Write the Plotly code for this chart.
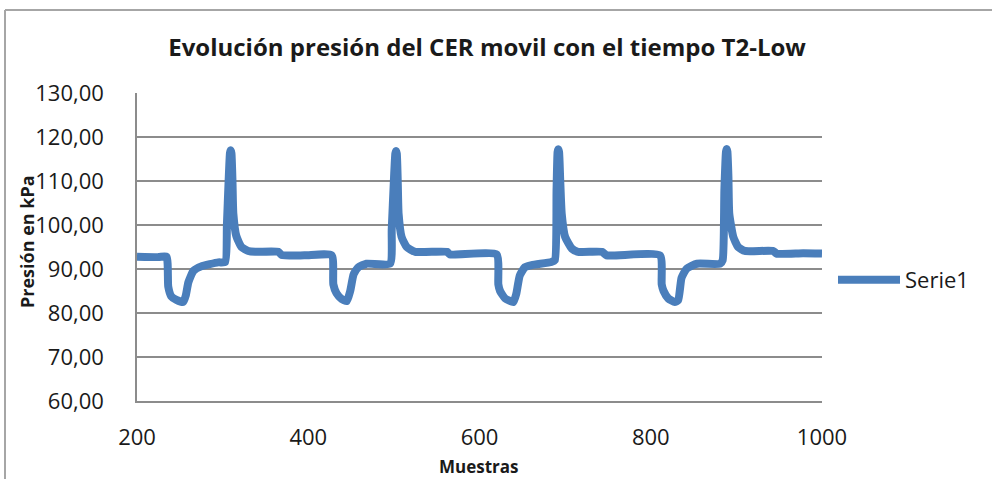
import plotly.graph_objects as go

# Sample index (Muestras) and pressure (kPa)
muestras = [200, 225, 234.5, 236.5, 240, 246, 254, 257, 260, 266, 275, 295, 303, 305, 307, 308.6, 309.4, 310.3, 311.5, 312.5, 316, 322, 330, 338, 365, 369, 396, 427.4,
            429.3, 433, 439, 445, 449, 453, 458.5, 468, 495.5, 497.5, 500, 501.7, 502.5, 503.4, 504.5, 505.5, 509, 515, 525, 562, 565.5, 620,
            622, 624, 630, 639.5, 643, 647, 653, 661, 684, 688, 690, 691.2, 692, 692.9, 694.3, 696, 700, 708, 715, 743, 748.5, 810.8,
            812.8, 815, 820.5, 828, 832, 836, 842, 854, 881, 884, 886, 887.9, 888.7, 889.5, 890.7, 891.7, 896.4, 902, 910, 943, 947, 978, 1000]
presion = [92.8, 92.7, 92.8, 86.0, 83.8, 83.0, 82.5, 84.0, 87.0, 89.6, 90.6, 91.5, 91.6, 100.0, 110.0, 116.4, 117.0, 116.3, 110.0, 102.6, 97.5, 95.0, 94.1, 93.9, 93.9, 93.2, 93.1, 93.1,
           86.5, 84.5, 83.2, 82.7, 85.0, 88.8, 90.4, 91.2, 91.2, 99.0, 110.0, 116.2, 116.8, 116.2, 110.0, 102.6, 97.3, 95.0, 93.9, 93.9, 93.3, 93.3,
           86.5, 85.0, 83.3, 82.5, 84.4, 88.5, 90.4, 90.9, 91.6, 92.0, 108.0, 116.6, 117.2, 116.6, 110.0, 102.6, 97.3, 94.6, 93.9, 93.9, 93.1, 93.1,
           86.5, 85.0, 83.3, 82.5, 82.9, 88.0, 90.1, 91.2, 91.2, 92.0, 108.0, 116.7, 117.3, 116.7, 111.0, 102.6, 97.3, 95.0, 94.1, 94.1, 93.5, 93.6, 93.5]

titulo = "Evolución presión del CER movil con el tiempo T2-Low"
x_titulo = "Muestras"
y_titulo = "Presión en kPa"
serie = "Serie1"

FONT = "Open Sans"
TXT = "#1a1a1a"
GRID = "#8c8c8c"

fig = go.Figure()
fig.add_trace(go.Scatter(
    x=muestras, y=presion, mode="lines", name=serie,
    line=dict(color="#4A7EBB", width=8, shape="spline", smoothing=0.5),
))

W, H = 992, 479
L, R, T, B = 137, 170, 93, 78
pw, ph = W - L - R, H - T - B

def px_x(px):
    return (px - L) / pw

def px_y(py):
    return (H - B - py) / ph

fig.update_layout(
    width=W, height=H,
    margin=dict(l=L, r=R, t=T, b=B),
    paper_bgcolor="white", plot_bgcolor="white",
    separators=",.",
    font=dict(family=FONT, color=TXT, size=22),
    title=dict(text="<b>" + titulo + "</b>", x=0.491, xref="container", xanchor="center",
               y=1 - 48 / H, yref="container", yanchor="middle",
               font=dict(family=FONT, size=24, color=TXT)),
    showlegend=True,
    legend=dict(x=px_x(833), y=px_y(280), xanchor="left", yanchor="middle",
                font=dict(family=FONT, size=22, color=TXT),
                bgcolor="rgba(0,0,0,0)", itemwidth=62, tracegroupgap=0),
    xaxis=dict(range=[200, 1000], dtick=200, tick0=200, showgrid=False,
               showline=True, linecolor=GRID, linewidth=1.5, zeroline=False,
               ticks="", ticklabelstandoff=16, tickformat="d",
               tickfont=dict(family=FONT, size=22, color=TXT)),
    yaxis=dict(range=[60, 130], dtick=10, tick0=60, showgrid=True, gridcolor=GRID, gridwidth=1.5,
               showline=True, linecolor=GRID, linewidth=1.5, zeroline=False,
               ticks="", ticklabelstandoff=27, tickformat=".2f",
               tickfont=dict(family=FONT, size=22, color=TXT)),
    annotations=[
        dict(text="<b>" + x_titulo + "</b>", xref="paper", yref="paper", x=px_x(479), y=px_y(467),
             xanchor="center", yanchor="middle", showarrow=False, font=dict(family=FONT, size=17, color=TXT)),
        dict(text="<b>" + y_titulo + "</b>", xref="paper", yref="paper", x=px_x(27), y=px_y(242),
             xanchor="center", yanchor="middle", textangle=-90, showarrow=False,
             font=dict(family=FONT, size=18, color=TXT)),
    ],
    shapes=[
        dict(type="line", xref="paper", yref="paper", x0=px_x(5), x1=px_x(995), y0=px_y(10), y1=px_y(10),
             line=dict(color="#a6a6a6", width=2)),
        dict(type="line", xref="paper", yref="paper", x0=px_x(5), x1=px_x(5), y0=px_y(10), y1=px_y(482),
             line=dict(color="#a6a6a6", width=2)),
    ],
)

fig.write_html("out.html", config={"displayModeBar": False},
               post_script="document.body.style.margin='0px';")
